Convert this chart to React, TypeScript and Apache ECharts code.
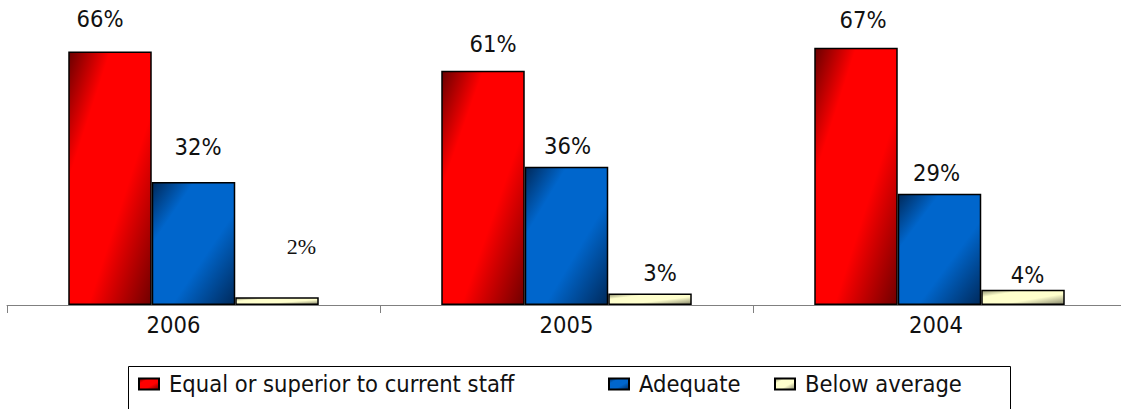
import React, { useEffect, useRef } from "react";
import * as echarts from "echarts";

// Survey results by year (percent of respondents)
const categories = ["2006", "2005", "2004"];
const seriesNames = ["Equal or superior to current staff", "Adequate", "Below average"];
const equalOrSuperior = [66, 61, 67];
const adequate = [32, 36, 29];
const belowAverage = [2, 3, 4];

// Per-label position nudges in px: [series][category]
const labelNudgeX = [
  [-10, 10, 7],
  [4.5, 1, -3],
  [24.5, 10, 4.5],
];
const labelNudgeY = [
  [-16, -9.5, -11],
  [-18, -3.5, -4],
  [-35, -3, 2],
];
// Labels drawn in a serif face: [series][category]
const labelSerif = [
  [false, false, false],
  [false, false, false],
  [true, false, false],
];
// Horizontal shift of each year label, px
const categoryShift = [-20, 0, -3.5];

const SANS = "'DejaVu Sans Condensed', 'DejaVu Sans', sans-serif";
const SERIF = "'Liberation Serif', 'DejaVu Serif', serif";
const TEXT_SIZE = 23.5;

function diagonal(dark: string, light: string, dark2: string) {
  return new echarts.graphic.LinearGradient(0, 0, 1, 1, [
    { offset: 0, color: dark },
    { offset: 0.25, color: light },
    { offset: 0.62, color: light },
    { offset: 1, color: dark2 },
  ]);
}

export default function App() {
  const ref = useRef<HTMLDivElement>(null);

  useEffect(() => {
    if (!ref.current) return;
    const chart = echarts.init(ref.current, undefined, { renderer: "svg" });

    const values = [equalOrSuperior, adequate, belowAverage];
    const fills = [
      diagonal("#6a0000", "#ff0000", "#700000"),
      diagonal("#00295a", "#0066cc", "#002a5c"),
      diagonal("#8e8e6c", "#ffffcc", "#85856a"),
    ];

    const series = values.map((vals, s) => ({
      name: seriesNames[s],
      type: "bar" as const,
      barWidth: 83.5,
      barGap: "0%",
      itemStyle: { color: fills[s], borderColor: "#000", borderWidth: 1.5 },
      label: {
        show: true,
        position: "top" as const,
        distance: 5,
        formatter: "{c}%",
        color: "#111",
        fontSize: TEXT_SIZE,
        fontFamily: SANS,
      },
      data: vals.map((v, c) => ({
        value: v,
        label: {
          offset: [labelNudgeX[s][c], labelNudgeY[s][c]],
          ...(labelSerif[s][c] ? { fontFamily: SERIF, fontSize: 22 } : {}),
        },
      })),
    }));

    const legendLefts = [138, 608, 774];

    chart.setOption({
      animation: false,
      grid: { left: 7, right: 14, top: 36.2, bottom: 104 },
      xAxis: {
        type: "category",
        data: categories.map((c, i) => ({
          value: c,
          textStyle: {
            padding:
              categoryShift[i] < 0
                ? [0, -2 * categoryShift[i], 0, 0]
                : [0, 0, 0, 2 * categoryShift[i]],
          },
        })),
        axisLine: { lineStyle: { color: "#808080", width: 1 } },
        axisTick: { show: true, length: 8, lineStyle: { color: "#808080" } },
        axisLabel: { interval: 0, margin: 8, fontSize: TEXT_SIZE, color: "#111", fontFamily: SANS },
      },
      yAxis: { type: "value", min: 0, max: 70, show: false, splitLine: { show: false } },
      legend: seriesNames.map((n, i) => ({
        data: [n],
        left: legendLefts[i],
        top: 372,
        padding: 0,
        icon: "rect",
        itemWidth: 20,
        itemHeight: 11,
        textStyle: {
          fontSize: TEXT_SIZE,
          color: "#111",
          fontFamily: SANS,
          padding: [4, 0, 0, 5],
        },
      })),
      graphic: [
        {
          type: "rect",
          shape: { x: 128.5, y: 366.5, width: 882, height: 60 },
          style: { fill: "none", stroke: "#000", lineWidth: 1 },
          silent: true,
        },
      ],
      series,
    });

    return () => chart.dispose();
  }, []);

  return (
    <div
      style={{
        position: "absolute",
        left: 0,
        top: 0,
        width: 1121,
        height: 409,
        overflow: "hidden",
        background: "#fff",
      }}
    >
      <div ref={ref} style={{ width: 1140, height: 409 }} />
    </div>
  );
}
